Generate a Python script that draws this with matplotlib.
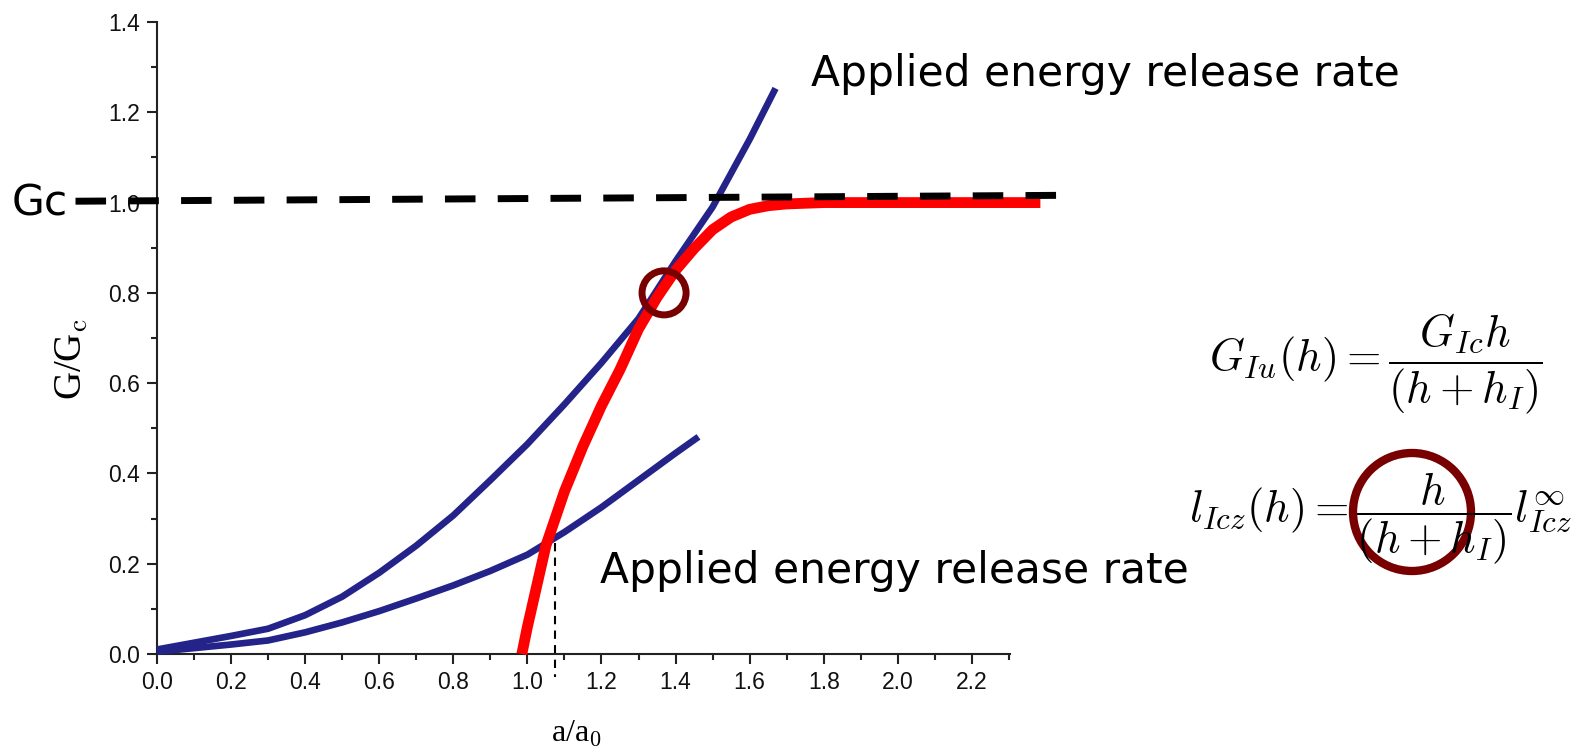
import matplotlib
matplotlib.use("Agg")
import matplotlib.pyplot as plt
from matplotlib.patches import Ellipse
from matplotlib.ticker import MultipleLocator

# ---- data ----
upper_x = [0.0, 0.1, 0.2, 0.3, 0.4, 0.5, 0.6, 0.7, 0.8, 0.9, 1.0, 1.1, 1.2, 1.3, 1.4, 1.5, 1.6, 1.67]
upper_y = [0.01, 0.025, 0.04, 0.056, 0.086, 0.127, 0.18, 0.24, 0.307, 0.385, 0.465, 0.553, 0.645, 0.743, 0.87, 0.99, 1.14, 1.253]

lower_x = [0.0, 0.1, 0.2, 0.3, 0.4, 0.5, 0.6, 0.7, 0.8, 0.9, 1.0, 1.1, 1.2, 1.3, 1.4, 1.462]
lower_y = [0.005, 0.013, 0.021, 0.03, 0.048, 0.07, 0.095, 0.123, 0.152, 0.184, 0.22, 0.27, 0.325, 0.385, 0.445, 0.481]

red_x = [0.985, 1.0, 1.05, 1.1, 1.15, 1.2, 1.25, 1.3, 1.35, 1.4, 1.45, 1.5, 1.55, 1.6, 1.65, 1.7, 1.8, 1.9, 2.0, 2.2, 2.385]
red_y = [0.0, 0.06, 0.24, 0.36, 0.46, 0.55, 0.63, 0.72, 0.79, 0.85, 0.898, 0.94, 0.968, 0.985, 0.993, 0.997, 1.0, 1.0, 1.0, 1.0, 1.0]

gc_x = [-0.22, 2.43]
gc_y = [1.003, 1.016]

vline_x = 1.075
vline_y = [0.245, -0.05]

circle_center = (1.369, 0.80)

x_ticks = [0.0, 0.2, 0.4, 0.6, 0.8, 1.0, 1.2, 1.4, 1.6, 1.8, 2.0, 2.2]
y_ticks = [0.0, 0.2, 0.4, 0.6, 0.8, 1.0, 1.2, 1.4]

label_text = "Applied energy release rate"
formula1 = r"$G_{Iu}(h) = \dfrac{G_{Ic}h}{(h+h_I)}$"
formula2 = r"$l_{Icz}(h) = \dfrac{h}{(h+h_I)}l^{\infty}_{Icz}$"

W, H = 1572, 750
fig = plt.figure(figsize=(W / 100, H / 100), dpi=100)
plt.rcParams['mathtext.fontset'] = 'cm'

ax = fig.add_axes([157 / W, 1 - 654 / H, (1010 - 157) / W, (654 - 22) / H])
ax.set_xlim(0, 2.303)
ax.set_ylim(0, 1.4)
for s in ['top', 'right']:
    ax.spines[s].set_visible(False)
for s in ['left', 'bottom']:
    ax.spines[s].set_linewidth(1.5)
    ax.spines[s].set_color('#222222')

ax.set_xticks(x_ticks)
ax.set_yticks(y_ticks)
ax.set_xticklabels([f"{v:.1f}" for v in x_ticks])
ax.set_yticklabels([f"{v:.1f}" for v in y_ticks])
ax.xaxis.set_minor_locator(MultipleLocator(0.1))
ax.yaxis.set_minor_locator(MultipleLocator(0.1))
ax.tick_params(which='major', direction='out', length=7.5, width=1.5, color='#222222',
               labelsize=16.5, labelcolor='#111111', pad=5)
ax.tick_params(which='minor', direction='out', length=4, width=1.5, color='#222222')
for lab in ax.get_xticklabels() + ax.get_yticklabels():
    lab.set_family('Liberation Sans')

fig.text(576 / W, 1 - 733 / H, r"a/a$_0$", family='Liberation Serif', fontsize=23,
         ha='center', va='center')
fig.text(72 / W, 1 - 359 / H, r"G/G$_\mathrm{c}$", family='Liberation Serif', fontsize=28,
         ha='center', va='center', rotation=90)

blue = '#23238a'
ax.plot(upper_x, upper_y, color=blue, lw=4.8, solid_capstyle='butt', solid_joinstyle='round', clip_on=False, zorder=3)
ax.plot(lower_x, lower_y, color=blue, lw=4.8, solid_capstyle='butt', solid_joinstyle='round', clip_on=False, zorder=3)
ax.plot(red_x, red_y, color='#ff0000', lw=7.8, solid_capstyle='butt', solid_joinstyle='round', clip_on=False, zorder=4)
ax.plot(gc_x, gc_y, color='black', lw=5, dashes=(4.4, 3.2), clip_on=False, zorder=5)
ax.plot([vline_x, vline_x], vline_y, color='black', lw=1.5, ls=(0, (4, 3)), clip_on=False, zorder=2)

# circle (pixel radius ~22) on the curves
rx = 22 / 370.0
ry = 22 / 451.0
ax.add_patch(Ellipse(circle_center, 2 * rx, 2 * ry, fill=False, edgecolor='#780000', lw=5, zorder=6, clip_on=False))

# texts
fs = 30.5
fig.text(811 / W, 1 - 86 / H, label_text, fontsize=fs, family='DejaVu Sans', va='baseline', ha='left')
fig.text(600 / W, 1 - 583 / H, label_text, fontsize=fs, family='DejaVu Sans', va='baseline', ha='left')
fig.text(12 / W, 1 - 216 / H, "Gc", fontsize=fs, family='DejaVu Sans', va='baseline', ha='left')

fig.text(1543 / W, 1 - 364 / H, formula1, fontsize=32, ha='right', va='center')
fig.text(1189 / W, 1 - 519 / H, formula2, fontsize=32, ha='left', va='center')

# circle around formula fraction
fig.patches.append(Ellipse((1412 / W, 1 - 512 / H), 118 / W, 118 / H, transform=fig.transFigure,
                           fill=False, edgecolor='#780000', lw=6, figure=fig))

fig.savefig("out.png", dpi=100)
